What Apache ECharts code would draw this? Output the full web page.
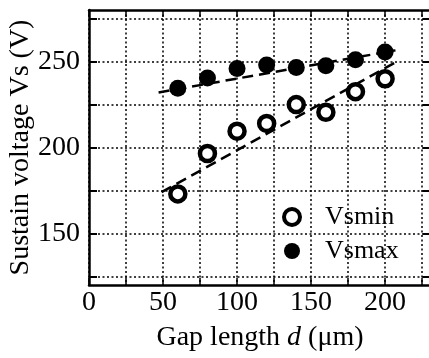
<!DOCTYPE html>
<html>
<head>
<meta charset="utf-8">
<script src="https://cdn.jsdelivr.net/npm/echarts@6/dist/echarts.min.js"></script>
<style>
  html, body { margin: 0; padding: 0; background: #fff; }
  #chart { width: 429px; height: 358px; }
</style>
</head>
<body>
<div id="chart"></div>
<script>
// gap length d (um)
const gaps = [60, 80, 100, 120, 140, 160, 180, 200];
const vsMin = [173, 196.5, 209.5, 214, 225, 220.5, 232.5, 240];
const vsMax = [234.5, 240.5, 246, 248, 246.5, 247.5, 251, 255.5];

// dashed fit lines, end points
const fitMinX = [49, 208];
const fitMinY = [174, 250];
const fitMaxX = [47, 207];
const fitMaxY = [232, 256.5];

const xTickLabels = [0, 50, 100, 150, 200];
const yTickLabels = [150, 200, 250];

const FONT = "'Liberation Serif', 'Times New Roman', serif";
const pairs = (xs, ys) => xs.map((x, i) => [x, ys[i]]);

const dotted = { color: '#000', width: 1.5, type: [2, 2.5] };
const frame = { color: '#000', width: 2.5 };

const chart = echarts.init(document.getElementById('chart'), null, { renderer: 'canvas' });

chart.setOption({
  animation: false,
  backgroundColor: '#fff',
  textStyle: { fontFamily: FONT, color: '#000' },
  grid: [
    { left: 89, right: -2, top: 10, bottom: 73, outerBoundsMode: 'none', containLabel: false },
    { left: 89, right: -2, top: 18.6, bottom: 81.6, outerBoundsMode: 'none', containLabel: false },
  ],
  legend: {
    orient: 'vertical',
    left: 277,
    top: 199,
    itemWidth: 16,
    itemHeight: 16,
    itemGap: 8,
    textStyle: { fontFamily: FONT, fontSize: 26, lineHeight: 26, color: '#000', padding: [0, 0, 0, 20] },
    data: [
      { name: 'Vsmin', icon: 'circle', itemStyle: { color: '#fff', borderColor: '#000', borderWidth: 4 } },
      { name: 'Vsmax', icon: 'circle', itemStyle: { color: '#000', borderWidth: 0 } },
    ],
  },
  xAxis: [
    {
      gridIndex: 0, type: 'value', position: 'bottom', min: 0, max: 231, interval: 25,
      axisLine: { lineStyle: frame },
      axisTick: { inside: true, length: 7, lineStyle: { width: 1.5, color: '#000' } },
      axisLabel: {
        fontFamily: FONT, fontSize: 28, color: '#000', margin: 4,
        formatter: v => (xTickLabels.includes(v) ? String(v) : ''),
      },
      splitLine: { show: true, lineStyle: dotted },
      name: '{n|Gap length }{i|d}{n| (μm)}',
      nameLocation: 'middle',
      nameGap: 39,
      nameTextStyle: {
        rich: {
          n: { fontFamily: FONT, fontSize: 28, color: '#000' },
          i: { fontFamily: FONT, fontSize: 28, color: '#000', fontStyle: 'italic' },
        },
      },
    },
    {
      gridIndex: 0, type: 'value', position: 'top', min: 0, max: 231, interval: 25,
      axisLine: { lineStyle: frame },
      axisTick: { inside: true, length: 7, lineStyle: { width: 1.5, color: '#000' } },
      axisLabel: { show: false },
      splitLine: { show: false },
    },
    { gridIndex: 1, type: 'value', min: 0, max: 231, show: false },
  ],
  yAxis: [
    {
      gridIndex: 0, type: 'value', position: 'left', min: 120, max: 280,
      axisLine: { show: true, lineStyle: frame },
      axisTick: { show: false },
      axisLabel: { show: false },
      splitLine: { show: false },
      name: 'Sustain voltage Vs (V)',
      nameLocation: 'middle',
      nameGap: 54,
      nameTextStyle: { fontFamily: FONT, fontSize: 28, color: '#000' },
    },
    {
      gridIndex: 1, type: 'value', position: 'left', min: 125, max: 275, interval: 25,
      axisLine: { show: false },
      axisTick: { show: true, inside: true, length: 8, lineStyle: { width: 2, color: '#000' } },
      axisLabel: {
        fontFamily: FONT, fontSize: 28, color: '#000', margin: 9,
        formatter: v => (yTickLabels.includes(v) ? String(v) : ''),
      },
      splitLine: { show: true, lineStyle: dotted },
    },
    {
      gridIndex: 1, type: 'value', position: 'right', min: 125, max: 275, interval: 25,
      axisLine: { show: false },
      axisTick: { show: true, inside: true, length: 8, lineStyle: { width: 2, color: '#000' } },
      axisLabel: { show: false },
      splitLine: { show: false },
    },
  ],
  series: [
    {
      name: 'fitMin', type: 'line', xAxisIndex: 0, yAxisIndex: 0,
      data: pairs(fitMinX, fitMinY), showSymbol: false, silent: true,
      lineStyle: { color: '#000', width: 2.5, type: [11, 6] },
    },
    {
      name: 'fitMax', type: 'line', xAxisIndex: 0, yAxisIndex: 0,
      data: pairs(fitMaxX, fitMaxY), showSymbol: false, silent: true,
      lineStyle: { color: '#000', width: 2.5, type: [11, 6] },
    },
    {
      name: 'Vsmin', type: 'scatter', xAxisIndex: 0, yAxisIndex: 0,
      data: pairs(gaps, vsMin), symbol: 'circle', symbolSize: 15,
      itemStyle: { color: '#fff', borderColor: '#000', borderWidth: 4.5, opacity: 1 },
      z: 5,
    },
    {
      name: 'Vsmax', type: 'scatter', xAxisIndex: 0, yAxisIndex: 0,
      data: pairs(gaps, vsMax), symbol: 'circle', symbolSize: 17,
      itemStyle: { color: '#000', opacity: 1 },
      z: 5,
    },
  ],
});
</script>
</body>
</html>
